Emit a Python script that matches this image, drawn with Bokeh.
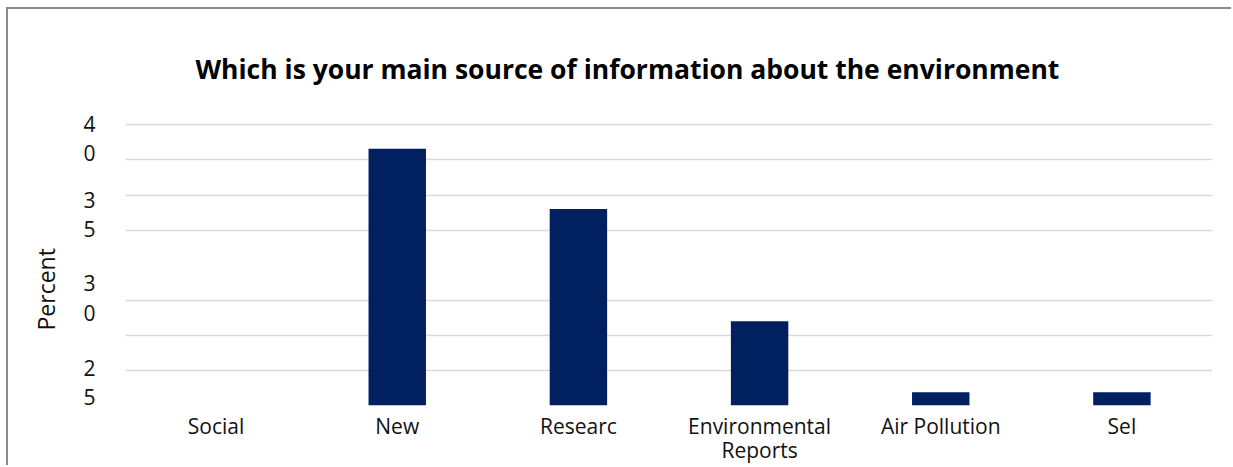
from bokeh.plotting import figure
from bokeh.models import FactorRange, Range1d, FixedTicker, ColumnDataSource, Title
from bokeh.embed import file_html
from bokeh.resources import INLINE

# ---- data ----
categories = ["Social", "New", "Researc", "Environmental\nReports", "Air Pollution", "Sel"]
percent = [0, 36.6, 28.0, 12.0, 1.9, 1.9]
ytick_values = [38.1, 27.2, 15.3, 3.3]
ytick_labels = ["4\n0", "3\n5", "3\n0", "2\n5"]
grid_values = [5, 10, 15, 25, 30, 35, 40]
title_text = "Which is your main source of information about the environment"
y_title = "Percent"

FONT = "Open Sans"

p = figure(
    width=1225, height=458,
    x_range=FactorRange(factors=categories, range_padding=0),
    y_range=Range1d(0, 40.2),
    output_backend="svg", toolbar_location=None,
    min_border_left=108, min_border_right=21, min_border_top=114, min_border_bottom=62,
)
p.margin = (7, 0, 0, 6)
p.styles = {"border-width": "2px 0px 0px 2px", "border-style": "solid",
            "border-color": "#8c8c8c"}

src = ColumnDataSource(dict(cat=categories, val=percent))
p.vbar(x="cat", top="val", width=0.317, source=src, fill_color="#002060", line_color=None)

p.title.text = title_text
p.title.align = "left"
p.title.offset = 70
p.title.standoff = 74
p.title.text_font = FONT
p.title.text_font_style = "bold"
p.title.text_font_size = "26.5px"
p.title.text_color = "#000000"

p.add_layout(Title(text=y_title, align="left", offset=75, standoff=38,
                   text_font=FONT, text_font_style="normal", text_font_size="23px",
                   text_color="#111111"), "left")

p.outline_line_color = None
p.background_fill_color = "white"
p.border_fill_color = "white"

p.xgrid.grid_line_color = None
p.ygrid.ticker = FixedTicker(ticks=grid_values)
p.ygrid.grid_line_color = "#d9d9d9"
p.ygrid.grid_line_width = 1.6

ax = p.xaxis[0]
ax.axis_line_color = None
ax.major_tick_line_color = None
ax.minor_tick_line_color = None
ax.major_label_text_font = FONT
ax.major_label_text_font_size = "21px"
ax.major_label_text_color = "#111111"
ax.major_label_text_line_height = 0.86
ax.major_label_standoff = 0

ay = p.yaxis[0]
ay.ticker = FixedTicker(ticks=ytick_values)
ay.major_label_overrides = {v: l for v, l in zip(ytick_values, ytick_labels)}
ay.axis_line_color = None
ay.major_tick_line_color = None
ay.minor_tick_line_color = None
ay.major_label_text_font = FONT
ay.major_label_text_font_size = "21px"
ay.major_label_text_color = "#111111"
ay.major_label_text_line_height = 1.05
ay.major_label_standoff = 24

open("out.html", "w").write(file_html(p, INLINE))
